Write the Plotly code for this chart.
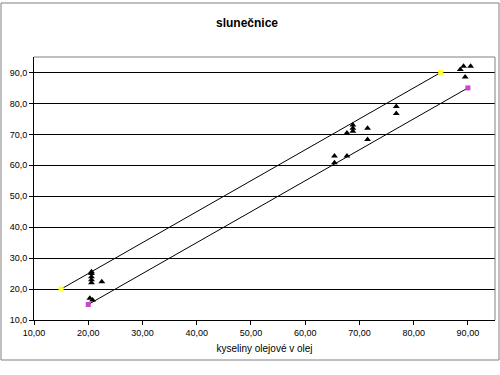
import plotly.graph_objects as go

# measured points (black triangles)
pts_x = [20.6, 20.6, 20.6, 20.6, 20.6, 22.5, 20.3, 20.8,
         65.4, 65.4, 67.7, 67.7, 68.8, 68.8, 68.8, 71.5, 71.5, 76.8, 76.8,
         88.6, 89.2, 90.5, 89.5]
pts_y = [22.0, 23.0, 24.0, 25.0, 25.6, 22.4, 17.0, 16.5,
         63.0, 60.8, 63.0, 70.4, 73.0, 72.0, 71.0, 72.0, 68.3, 79.0, 76.7,
         91.0, 92.0, 92.0, 88.5]

# upper limit line (yellow ends)
upper_x = [15, 85]
upper_y = [20, 90]
# lower limit line (magenta ends)
lower_x = [20, 90]
lower_y = [15, 85]

x_ticks = [10, 20, 30, 40, 50, 60, 70, 80, 90]
y_ticks = [10, 20, 30, 40, 50, 60, 70, 80, 90]

fig = go.Figure()
fig.add_trace(go.Scatter(x=upper_x, y=upper_y, mode="lines+markers",
                         line=dict(color="black", width=1),
                         marker=dict(symbol="square", size=5, color="#FFFF33"),
                         showlegend=False))
fig.add_trace(go.Scatter(x=lower_x, y=lower_y, mode="lines+markers",
                         line=dict(color="black", width=1),
                         marker=dict(symbol="square", size=5, color="#CC44CC"),
                         showlegend=False))
fig.add_trace(go.Scatter(x=pts_x, y=pts_y, mode="markers",
                         marker=dict(symbol="triangle-up", size=6, color="black"),
                         showlegend=False))

W, H = 500, 375
L, R, T, B = 34, 5, 57, 55
pw, ph = W - L - R, H - T - B

def px(x):
    return (x - L) / pw

def py(y):
    return (H - B - y) / ph

fig.update_layout(
    width=W, height=H,
    margin=dict(l=L, r=R, t=T, b=B),
    paper_bgcolor="white", plot_bgcolor="white",
    separators=", ",
    font=dict(family="Liberation Sans, Arial", size=9, color="black"),
    title=dict(text="<b>slunečnice</b>", x=(247) / W, xanchor="center",
               y=1 - 23 / H, yanchor="middle",
               font=dict(size=12, family="Liberation Sans, Arial")),
    xaxis=dict(range=[10, 95], tickvals=x_ticks, tickformat=".2f",
               showgrid=False, zeroline=False, showline=True,
               linecolor="black", linewidth=1, ticks="outside", ticklen=4,
               tickcolor="black",
               title=dict(text="kyseliny olejové v olej", standoff=8,
                          font=dict(size=10))),
    yaxis=dict(range=[10, 95], tickvals=y_ticks, tickformat=".1f",
               showgrid=True, gridcolor="black", gridwidth=1, zeroline=False,
               showline=True, linecolor="black", linewidth=1,
               ticks="outside", ticklen=4, tickcolor="black"),
    shapes=[
        dict(type="line", xref="paper", yref="paper", x0=0, x1=1, y0=1, y1=1,
             line=dict(color="#808080", width=1)),
        dict(type="line", xref="paper", yref="paper", x0=1, x1=1, y0=0, y1=1,
             line=dict(color="#808080", width=1)),
        dict(type="rect", xref="paper", yref="paper",
             x0=px(1), x1=px(499), y0=py(3), y1=py(360),
             line=dict(color="#808080", width=1)),
    ],
)

fig.write_html("out.html",
               config={"displayModeBar": False},
               post_script="document.body.style.margin='0';document.body.style.overflow='hidden';")
